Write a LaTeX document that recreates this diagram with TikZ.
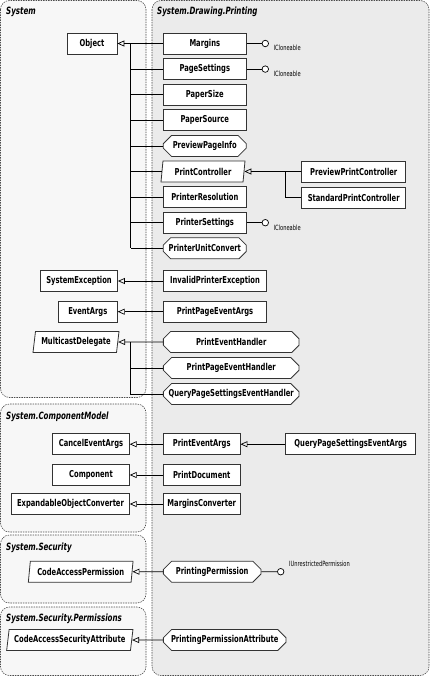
\documentclass[tikz,border=0pt]{standalone}
\usepackage{fontspec}
\setmainfont{DejaVu Sans Condensed}[FakeStretch=0.79]
\usetikzlibrary{arrows.meta,shapes.geometric,shapes.misc}

\definecolor{pkgback}{HTML}{F7F7F7}
\definecolor{pkgfront}{HTML}{EBEBEB}
\definecolor{boxline}{HTML}{333333}

\tikzset{
  cls/.style={draw=boxline, fill=white, line width=0.8pt, inner sep=0pt,
    minimum height=21pt, font=\fontsize{9.5}{10}\selectfont\bfseries},
  abscls/.style={cls, trapezium, trapezium left angle=75, trapezium right angle=105,
    trapezium stretches body},
  dlgcls/.style={cls, chamfered rectangle, chamfered rectangle xsep=5pt},
  pkg/.style={draw=black!70, dash pattern=on 1.5pt off 1pt, rounded corners=9pt, line width=0.6pt},
  pkgname/.style={anchor=base west, inner sep=0pt, font=\fontsize{10}{11}\selectfont\bfseries\itshape},
  inh/.style={-{Triangle[open,length=7pt,width=6pt]}, line width=0.7pt},
  bus/.style={line width=0.7pt},
  lolly/.style={circle, draw, fill=white, inner sep=0pt, minimum size=6.5pt, line width=0.7pt},
  iface/.style={anchor=base west, inner sep=0pt, font=\fontsize{7.2}{8}\selectfont},
}

\begin{document}
\begin{tikzpicture}[x=1pt, y=-1pt]
    \useasboundingbox (0,0) rectangle (432,677);

    % packages
    \draw[pkg, fill=pkgback] (0.5,0.5) rectangle (146,397.5);
    \draw[pkg, fill=pkgback] (0.5,404) rectangle (146,532);
    \draw[pkg, fill=pkgback] (0.5,535) rectangle (146,603);
    \draw[pkg, fill=pkgback] (0.5,607) rectangle (146,675.5);
    \draw[pkg, fill=pkgfront] (152,0.5) rectangle (429,675.5);
    \node[pkgname] (sysname) at (6,15) {System};
    \node[pkgname] (cmname) at (6,419) {System.ComponentModel};
    \node[pkgname] (secname) at (6,550) {System.Security};
    \node[pkgname] (permname) at (6,621) {System.Security.Permissions};
    \node[pkgname] (prname) at (157,15) {System.Drawing.Printing};

    % System
    \node[cls, minimum width=50pt] (object) at (92,43.5) {Object};
    \node[cls, minimum width=77pt] (sysexc) at (79,281) {SystemException};
    \node[cls, minimum width=59pt] (evargs) at (87.8,311.7) {EventArgs};
    \node[abscls, minimum width=86pt] (mcdel) at (76,342) {MulticastDelegate};

    % System.ComponentModel
    \node[cls, minimum width=76.6pt] (cancelargs) at (91,444.2) {CancelEventArgs};
    \node[cls, minimum width=76.6pt] (component) at (91,475) {Component};
    \node[cls, minimum width=117.6pt] (expconv) at (70.5,504) {ExpandableObjectConverter};

    % System.Security, System.Security.Permissions
    \node[abscls, minimum width=104.7pt] (caperm) at (80.7,571.7) {CodeAccessPermission};
    \node[abscls, minimum width=126.3pt] (casattr) at (69.8,640) {CodeAccessSecurityAttribute};

    % System.Drawing.Printing
    \node[cls, minimum width=83pt] (margins) at (204.8,43.5) {Margins};
    \node[cls, minimum width=83pt] (pagesettings) at (204.8,69.1) {PageSettings};
    \node[cls, minimum width=83pt] (papersize) at (204.8,94.7) {PaperSize};
    \node[cls, minimum width=83pt] (papersource) at (204.8,120.3) {PaperSource};
    \node[dlgcls, minimum width=83pt] (previewinfo) at (204.8,145.9) {PreviewPageInfo};
    \node[abscls, minimum width=84pt] (printctrl) at (203,171.5) {PrintController};
    \node[cls, minimum width=83pt] (printerres) at (204.8,197.1) {PrinterResolution};
    \node[cls, minimum width=83pt] (printerset) at (204.8,222.7) {PrinterSettings};
    \node[dlgcls, minimum width=83pt] (unitconv) at (204.8,248.3) {PrinterUnitConvert};
    \node[cls, minimum width=104pt] (previewctrl) at (353.7,171.5) {PreviewPrintController};
    \node[cls, minimum width=104pt] (standardctrl) at (353.7,197.8) {StandardPrintController};
    \node[cls, minimum width=103.4pt] (invalidexc) at (215,281) {InvalidPrinterException};
    \node[cls, minimum width=103.4pt] (ppeargs) at (215,311.7) {PrintPageEventArgs};
    \node[dlgcls, minimum width=135.7pt] (pehandler) at (231.2,342) {PrintEventHandler};
    \node[dlgcls, minimum width=135.7pt] (ppehandler) at (231.2,368) {PrintPageEventHandler};
    \node[dlgcls, minimum width=135.7pt] (qpshandler) at (231.2,394) {QueryPageSettingsEventHandler};
    \node[cls, minimum width=76.7pt] (peargs) at (201.7,444.2) {PrintEventArgs};
    \node[cls, minimum width=76.7pt] (printdoc) at (201.7,475) {PrintDocument};
    \node[cls, minimum width=76.7pt] (marginsconv) at (201.7,504) {MarginsConverter};
    \node[cls, minimum width=130pt] (qpseargs) at (350.7,444.2) {QueryPageSettingsEventArgs};
    \node[dlgcls, minimum width=97.7pt] (pperm) at (212.2,571.7) {PrintingPermission};
    \node[dlgcls, minimum width=122.7pt] (ppattr) at (224.7,640) {PrintingPermissionAttribute};

    % interfaces
    \node[lolly] (icl1) at (265.3,43.5) {};
    \node[lolly] (icl2) at (265.3,69.1) {};
    \node[lolly] (icl3) at (265.3,222.7) {};
    \node[lolly] (iup) at (280.7,571.7) {};
    \node[iface] (icl1t) at (273.5,51) {ICloneable};
    \node[iface] (icl2t) at (273.5,76.6) {ICloneable};
    \node[iface] (icl3t) at (273.5,230.2) {ICloneable};
    \node[iface] (iupt) at (289,566) {IUnrestrictedPermission};
    \draw[bus] (margins) -- (icl1);
    \draw[bus] (pagesettings) -- (icl2);
    \draw[bus] (printerset) -- (icl3);
    \draw[bus] (pperm) -- (iup);

    % inheritance
    \coordinate (objbus) at (130.7,43.5);
    \draw[inh] (margins) -- (object);
    \draw[bus] (objbus) -- (objbus |- unitconv.west);
    \foreach \n in {pagesettings,papersize,papersource,previewinfo,printctrl,printerres,printerset,unitconv}
        \draw[bus] (\n.west) -- (objbus |- \n.west);

    \coordinate (ctrlbus) at (285,171.5);
    \draw[inh] (previewctrl) -- (printctrl);
    \draw[bus] (ctrlbus) |- (standardctrl.west);

    \draw[inh] (invalidexc) -- (sysexc);
    \draw[inh] (ppeargs) -- (evargs);

    \coordinate (dlgbus) at (130.7,342);
    \draw[inh] (pehandler) -- (mcdel);
    \draw[bus] (dlgbus) |- (ppehandler.west);
    \draw[bus] (dlgbus) |- (qpshandler.west);

    \draw[inh] (qpseargs) -- (peargs);
    \draw[inh] (peargs) -- (cancelargs);
    \draw[inh] (printdoc) -- (component);
    \draw[inh] (marginsconv) -- (expconv);
    \draw[inh] (pperm) -- (caperm);
    \draw[inh] (ppattr) -- (casattr);
\end{tikzpicture}
\end{document}
